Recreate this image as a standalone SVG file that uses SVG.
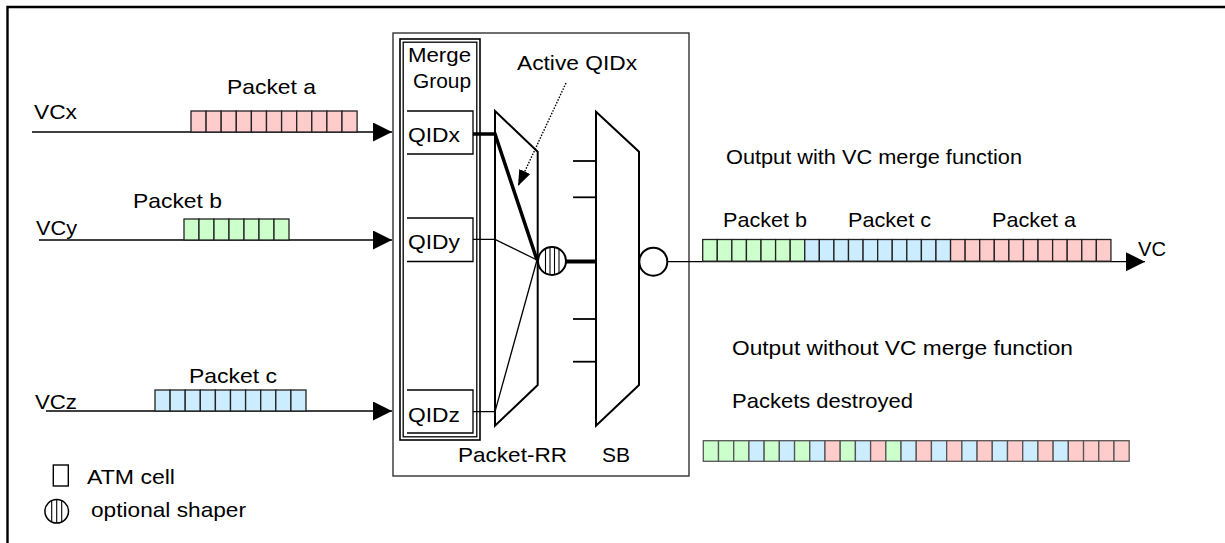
<svg xmlns="http://www.w3.org/2000/svg" width="1225" height="543" viewBox="0 0 1225 543">
<defs>
<style>
text{font-family:"Liberation Sans",Arial,sans-serif;font-size:21px;fill:#000}
.t18{font-size:20px}
.ln{stroke:#000;stroke-width:1.7;fill:none}
.thin{stroke:#000;stroke-width:1.3;fill:none}
.thick{stroke:#000;stroke-width:3.5;fill:none}
.shape{stroke:#000;stroke-width:2;fill:#fff}
.box{stroke:#333;stroke-width:1.4;fill:#fff}
.r{fill:#FFCCCC;stroke:#222;stroke-width:1.3}
.g{fill:#CCFFCC;stroke:#222;stroke-width:1.3}
.b{fill:#CCECFF;stroke:#222;stroke-width:1.3}
.lr{fill:#FFCCCC;stroke:#555;stroke-width:1.3}
.lg{fill:#CCFFCC;stroke:#555;stroke-width:1.3}
.lb{fill:#CCECFF;stroke:#555;stroke-width:1.3}
</style>
<marker id="ah" markerUnits="userSpaceOnUse" markerWidth="20" markerHeight="20" refX="19" refY="9.5" orient="auto">
<path d="M0,0 L19,9.5 L0,19 Z" fill="#000"/>
</marker>
<marker id="ahs" markerUnits="userSpaceOnUse" markerWidth="20" markerHeight="14" refX="16" refY="6" orient="auto">
<path d="M0,0 L16,6 L0,12 Z" fill="#000"/>
</marker>
</defs>
<rect width="1225" height="543" fill="#fff"/>
<!-- frame -->
<path d="M7.5,543 V7 H1225" stroke="#000" stroke-width="2.4" fill="none"/>

<!-- main box -->
<g id="switch">
<rect class="box" x="393" y="33" width="296" height="443"/>
</g>

<g id="merge-group">
<rect x="400" y="39" width="80" height="401" fill="none" stroke="#000" stroke-width="1.6"/>
<rect x="403.2" y="42.2" width="73.6" height="394.6" fill="none" stroke="#000" stroke-width="1.3"/>
<text class="t18" x="408" y="62" textLength="63" lengthAdjust="spacingAndGlyphs">Merge</text>
<text class="t18" x="413" y="88" textLength="58" lengthAdjust="spacingAndGlyphs">Group</text>
</g>

<g id="qidx">
<path class="thin" d="M407,111 H473 V154 H407"/>
<text x="408" y="142" textLength="52" lengthAdjust="spacingAndGlyphs">QIDx</text>
</g>
<g id="qidy">
<path class="thin" d="M407,218 H473 V261.5 H407"/>
<text x="408" y="249" textLength="52" lengthAdjust="spacingAndGlyphs">QIDy</text>
</g>
<g id="qidz">
<path class="thin" d="M407,390 H473 V433 H407"/>
<text x="408" y="422" textLength="52" lengthAdjust="spacingAndGlyphs">QIDz</text>
</g>

<g id="packet-rr">
<polygon class="shape" points="495,111 537.7,151.7 537.7,385 495,425.7"/>
<text x="458" y="462" textLength="109" lengthAdjust="spacingAndGlyphs">Packet-RR</text>
</g>

<g id="sb">
<polygon class="shape" points="596,111.7 639,151.7 639,385 596,425.7"/>
<text x="602" y="462" textLength="28" lengthAdjust="spacingAndGlyphs">SB</text>
</g>

<g id="connectors">
<line class="ln" x1="32" y1="132" x2="392" y2="132" marker-end="url(#ah)"/>
<line class="ln" x1="39" y1="240" x2="392" y2="240" marker-end="url(#ah)"/>
<line class="ln" x1="46" y1="411" x2="392" y2="411" marker-end="url(#ah)"/>
<polyline class="thick" points="473,134 495,134 537,260"/>
<polyline class="thin" points="473,239.3 495,239.3 537,260"/>
<polyline class="thin" points="473,411.7 495,411.7 537,260"/>
<line x1="566" y1="261.5" x2="596" y2="261.5" stroke="#000" stroke-width="4"/>
<g stroke="#000" stroke-width="1.8">
<line x1="573" y1="161" x2="596" y2="161"/>
<line x1="573" y1="197.3" x2="596" y2="197.3"/>
<line x1="573" y1="319" x2="596" y2="319"/>
<line x1="573" y1="361.7" x2="596" y2="361.7"/>
</g>
<line class="thin" x1="667" y1="261.7" x2="1145" y2="261.7" marker-end="url(#ah)"/>
<line x1="566" y1="83" x2="518" y2="186" stroke="#000" stroke-width="1.4" stroke-dasharray="1.5,1.5" marker-end="url(#ahs)"/>
</g>

<g id="shaper">
<circle cx="552" cy="261" r="14" fill="#fff" stroke="#000" stroke-width="2"/>
<g stroke="#000" stroke-width="1.1">
<line x1="545.5" y1="248.6" x2="545.5" y2="273.4"/>
<line x1="550" y1="247.2" x2="550" y2="274.8"/>
<line x1="554.5" y1="247.2" x2="554.5" y2="274.8"/>
<line x1="559" y1="248.9" x2="559" y2="273.1"/>
</g>
</g>

<g id="out-shaper">
<circle cx="653.3" cy="261.7" r="14" fill="#fff" stroke="#000" stroke-width="2"/>
</g>

<g id="vcx">
<text class="t18" x="34" y="119" textLength="43" lengthAdjust="spacingAndGlyphs">VCx</text>
<text x="227" y="94" textLength="89" lengthAdjust="spacingAndGlyphs">Packet a</text>
<rect class="r" x="191" y="111" width="15.1" height="21"/><rect class="r" x="206.1" y="111" width="15.1" height="21"/><rect class="r" x="221.2" y="111" width="15.1" height="21"/><rect class="r" x="236.3" y="111" width="15.1" height="21"/><rect class="r" x="251.4" y="111" width="15.1" height="21"/><rect class="r" x="266.5" y="111" width="15.1" height="21"/><rect class="r" x="281.6" y="111" width="15.1" height="21"/><rect class="r" x="296.7" y="111" width="15.1" height="21"/><rect class="r" x="311.8" y="111" width="15.1" height="21"/><rect class="r" x="326.9" y="111" width="15.1" height="21"/><rect class="r" x="342" y="111" width="15.1" height="21"/>
</g>

<g id="vcy">
<text class="t18" x="36" y="235" textLength="41" lengthAdjust="spacingAndGlyphs">VCy</text>
<text x="133" y="208" textLength="89" lengthAdjust="spacingAndGlyphs">Packet b</text>
<rect class="g" x="184" y="219" width="15" height="21"/><rect class="g" x="199" y="219" width="15" height="21"/><rect class="g" x="214" y="219" width="15" height="21"/><rect class="g" x="229" y="219" width="15" height="21"/><rect class="g" x="244" y="219" width="15" height="21"/><rect class="g" x="259" y="219" width="15" height="21"/><rect class="g" x="274" y="219" width="15" height="21"/>
</g>

<g id="vcz">
<text class="t18" x="35" y="409" textLength="42" lengthAdjust="spacingAndGlyphs">VCz</text>
<text x="189" y="383" textLength="88" lengthAdjust="spacingAndGlyphs">Packet c</text>
<rect class="b" x="155" y="390" width="15.1" height="21"/><rect class="b" x="170.1" y="390" width="15.1" height="21"/><rect class="b" x="185.2" y="390" width="15.1" height="21"/><rect class="b" x="200.3" y="390" width="15.1" height="21"/><rect class="b" x="215.4" y="390" width="15.1" height="21"/><rect class="b" x="230.5" y="390" width="15.1" height="21"/><rect class="b" x="245.6" y="390" width="15.1" height="21"/><rect class="b" x="260.7" y="390" width="15.1" height="21"/><rect class="b" x="275.8" y="390" width="15.1" height="21"/><rect class="b" x="290.9" y="390" width="15.1" height="21"/>
</g>

<g id="active-label">
<text x="517" y="70" textLength="120" lengthAdjust="spacingAndGlyphs">Active QIDx</text>
</g>

<g id="output-merge">
<text x="726" y="164" textLength="296" lengthAdjust="spacingAndGlyphs">Output with VC merge function</text>
<text x="723" y="227" textLength="84" lengthAdjust="spacingAndGlyphs">Packet b</text>
<text x="848" y="227" textLength="83" lengthAdjust="spacingAndGlyphs">Packet c</text>
<text x="992" y="227" textLength="84" lengthAdjust="spacingAndGlyphs">Packet a</text>
<text x="1138" y="256" textLength="28" lengthAdjust="spacingAndGlyphs">VC</text>
<rect class="g" x="702.7" y="239.5" width="14.58" height="21.7"/><rect class="g" x="717.28" y="239.5" width="14.58" height="21.7"/><rect class="g" x="731.86" y="239.5" width="14.58" height="21.7"/><rect class="g" x="746.44" y="239.5" width="14.58" height="21.7"/><rect class="g" x="761.02" y="239.5" width="14.58" height="21.7"/><rect class="g" x="775.6" y="239.5" width="14.58" height="21.7"/><rect class="g" x="790.18" y="239.5" width="14.58" height="21.7"/>
<rect class="b" x="804.76" y="239.5" width="14.58" height="21.7"/><rect class="b" x="819.34" y="239.5" width="14.58" height="21.7"/><rect class="b" x="833.92" y="239.5" width="14.58" height="21.7"/><rect class="b" x="848.5" y="239.5" width="14.58" height="21.7"/><rect class="b" x="863.08" y="239.5" width="14.58" height="21.7"/><rect class="b" x="877.66" y="239.5" width="14.58" height="21.7"/><rect class="b" x="892.24" y="239.5" width="14.58" height="21.7"/><rect class="b" x="906.82" y="239.5" width="14.58" height="21.7"/><rect class="b" x="921.4" y="239.5" width="14.58" height="21.7"/><rect class="b" x="935.98" y="239.5" width="14.58" height="21.7"/>
<rect class="r" x="950.56" y="239.5" width="14.58" height="21.7"/><rect class="r" x="965.14" y="239.5" width="14.58" height="21.7"/><rect class="r" x="979.72" y="239.5" width="14.58" height="21.7"/><rect class="r" x="994.3" y="239.5" width="14.58" height="21.7"/><rect class="r" x="1008.88" y="239.5" width="14.58" height="21.7"/><rect class="r" x="1023.46" y="239.5" width="14.58" height="21.7"/><rect class="r" x="1038.04" y="239.5" width="14.58" height="21.7"/><rect class="r" x="1052.62" y="239.5" width="14.58" height="21.7"/><rect class="r" x="1067.2" y="239.5" width="14.58" height="21.7"/><rect class="r" x="1081.78" y="239.5" width="14.58" height="21.7"/><rect class="r" x="1096.36" y="239.5" width="14.58" height="21.7"/>
</g>

<g id="output-nomerge">
<text x="732" y="355" textLength="341" lengthAdjust="spacingAndGlyphs">Output without VC merge function</text>
<text x="732" y="408" textLength="181" lengthAdjust="spacingAndGlyphs">Packets destroyed</text>
<rect class="lg" x="703.3" y="440.7" width="15.21" height="20.6"/><rect class="lg" x="718.51" y="440.7" width="15.21" height="20.6"/><rect class="lg" x="733.72" y="440.7" width="15.21" height="20.6"/><rect class="lb" x="748.93" y="440.7" width="15.21" height="20.6"/><rect class="lg" x="764.14" y="440.7" width="15.21" height="20.6"/><rect class="lb" x="779.35" y="440.7" width="15.21" height="20.6"/><rect class="lg" x="794.56" y="440.7" width="15.21" height="20.6"/><rect class="lb" x="809.77" y="440.7" width="15.21" height="20.6"/><rect class="lr" x="824.98" y="440.7" width="15.21" height="20.6"/><rect class="lg" x="840.19" y="440.7" width="15.21" height="20.6"/><rect class="lb" x="855.4" y="440.7" width="15.21" height="20.6"/><rect class="lr" x="870.61" y="440.7" width="15.21" height="20.6"/><rect class="lg" x="885.82" y="440.7" width="15.21" height="20.6"/><rect class="lb" x="901.03" y="440.7" width="15.21" height="20.6"/><rect class="lr" x="916.24" y="440.7" width="15.21" height="20.6"/><rect class="lb" x="931.45" y="440.7" width="15.21" height="20.6"/><rect class="lr" x="946.66" y="440.7" width="15.21" height="20.6"/><rect class="lb" x="961.87" y="440.7" width="15.21" height="20.6"/><rect class="lr" x="977.08" y="440.7" width="15.21" height="20.6"/><rect class="lb" x="992.29" y="440.7" width="15.21" height="20.6"/><rect class="lr" x="1007.5" y="440.7" width="15.21" height="20.6"/><rect class="lb" x="1022.71" y="440.7" width="15.21" height="20.6"/><rect class="lr" x="1037.92" y="440.7" width="15.21" height="20.6"/><rect class="lb" x="1053.13" y="440.7" width="15.21" height="20.6"/><rect class="lr" x="1068.34" y="440.7" width="15.21" height="20.6"/><rect class="lr" x="1083.55" y="440.7" width="15.21" height="20.6"/><rect class="lr" x="1098.76" y="440.7" width="15.21" height="20.6"/><rect class="lr" x="1113.97" y="440.7" width="15.21" height="20.6"/>
</g>

<g id="legend">
<rect x="53.3" y="465" width="15" height="21" fill="#fff" stroke="#000" stroke-width="1.4"/>
<text x="87" y="484" textLength="88" lengthAdjust="spacingAndGlyphs">ATM cell</text>
<circle cx="56.7" cy="511.3" r="11.8" fill="#fff" stroke="#000" stroke-width="1.5"/>
<g stroke="#000" stroke-width="1.1">
<line x1="51.7" y1="500.6" x2="51.7" y2="522"/>
<line x1="56.7" y1="499.5" x2="56.7" y2="523.1"/>
<line x1="61.7" y1="500.6" x2="61.7" y2="522"/>
</g>
<text x="91" y="517" textLength="155" lengthAdjust="spacingAndGlyphs">optional shaper</text>
</g>
</svg>
